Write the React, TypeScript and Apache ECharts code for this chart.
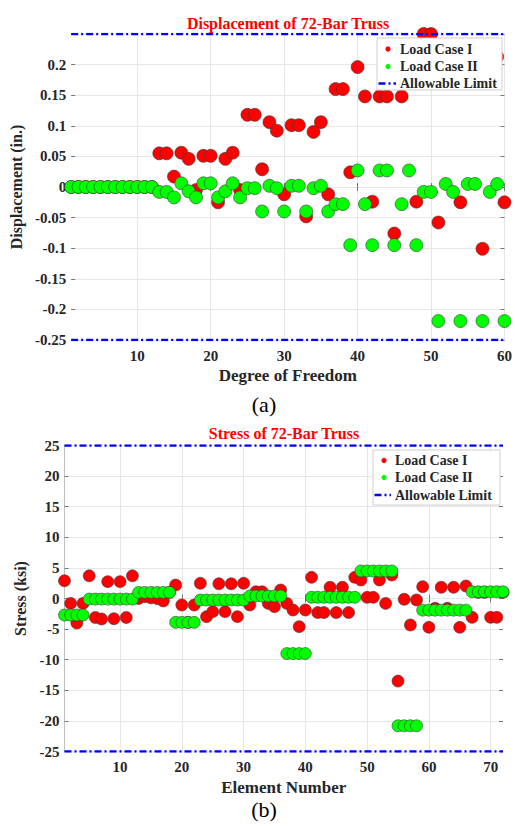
import React, { useEffect, useRef } from "react";
import * as echarts from "echarts";

// ---------- data ----------
const dispTitle = "Displacement of 72-Bar Truss";
const stressTitle = "Stress of 72-Bar Truss";
const seriesNames = ["Load Case I", "Load Case II", "Allowable Limit"];

// Displacement (in.) per degree of freedom 1..60
const dispCase1 = [
  0, 0, 0, 0, 0, 0, 0, 0, 0, 0, 0, 0,
  0.055, 0.055, 0.017, 0.056, 0.046, -0.005, 0.051, 0.051, -0.025, 0.046, 0.056, -0.005,
  0.118, 0.118, 0.029, 0.106, 0.092, -0.012, 0.101, 0.101, -0.048, 0.09, 0.106, -0.012,
  0.16, 0.16, 0.024, 0.196, 0.148, -0.024, 0.148, 0.148, -0.076, 0.148, 0.196, -0.024,
  0.25, 0.25, -0.058, 0.213, 0.19, -0.025, 0.19, 0.19, -0.101, 0.19, 0.213, -0.025,
];
const dispCase2 = [
  0, 0, 0, 0, 0, 0, 0, 0, 0, 0, 0, 0,
  -0.008, -0.008, -0.017, 0.006, -0.007, -0.017, 0.006, 0.006, -0.017, -0.007, 0.006, -0.017,
  -0.002, -0.002, -0.04, 0.002, -0.002, -0.04, 0.002, 0.002, -0.04, -0.002, 0.002, -0.04,
  -0.028, -0.028, -0.095, 0.027, -0.028, -0.095, 0.027, 0.027, -0.095, -0.028, 0.027, -0.095,
  -0.008, -0.008, -0.219, 0.005, -0.008, -0.219, 0.005, 0.005, -0.219, -0.008, 0.005, -0.219,
];
const dispLimit = 0.25;
const dispXTicks = [10, 20, 30, 40, 50, 60];

// Stress (ksi) per element 1..72
const stressCase1 = [
  2.9, -0.8, -4.0, -0.8, 3.7, -3.1, -3.35, 2.75, -3.3, 2.75, -3.1, 3.7,
  0.0, 0.3, 0.1, 0.0, -0.4, 1.0,
  2.2, -1.06, -3.9, -1.06, 2.48, -2.97, -2.15, 2.4, -2.15, 2.4, -2.97, 2.48,
  -1.06, 1.1, 1.1, -0.8, -1.33, 1.39,
  -0.8, -1.88, -4.6, -1.88, 3.46, -2.3, -2.3, 1.83, -2.3, 1.83, -2.3, 3.46,
  3.02, 0.19, 0.19, 3.02, -0.8, 3.84,
  -13.5, -0.13, -4.33, -0.24, 1.93, -4.71, -1.6, 1.83, -1.6, 1.83, -4.71, 2.04,
  -3.08, 1.0, 1.0, -3.08, -3.08, 1.0,
];
const stressCase2 = [
  -2.7, -2.7, -2.7, -2.7, -0.1, -0.1, -0.1, -0.1, -0.1, -0.1, -0.1, -0.1,
  1.0, 1.0, 1.0, 1.0, 1.0, 1.0,
  -3.9, -3.9, -3.9, -3.9, -0.25, -0.25, -0.25, -0.25, -0.25, -0.25, -0.25, -0.25,
  0.4, 0.4, 0.4, 0.4, 0.4, 0.4,
  -9.0, -9.0, -9.0, -9.0, 0.2, 0.2, 0.2, 0.2, 0.2, 0.2, 0.2, 0.2,
  4.5, 4.5, 4.5, 4.5, 4.5, 4.5,
  -20.8, -20.8, -20.8, -20.8, -1.9, -1.9, -1.9, -1.9, -1.9, -1.9, -1.9, -1.9,
  1.1, 1.1, 1.1, 1.1, 1.1, 1.1,
];
const stressLimit = 25;
const stressXTicks = [10, 20, 30, 40, 50, 60, 70];

// ---------- styles ----------
const serif = "'Liberation Serif', 'Times New Roman', serif";
const ink = "#262626";
const gridGrey = "#e6e6e6";
const red = "#ff0000";
const green = "#00ff00";
const blue = "#0000ff";
const limitDash = [7, 3, 2, 3];

const pts = (vals: number[]) => vals.map((v, i) => [i + 1, v]);

function legendBox(x: number, y: number, w: number, h: number, rowYs: number[], markX: number, textX: number) {
  const colors = [red, green];
  const els: any[] = [
    {
      type: "rect", z: 50, silent: true,
      shape: { x, y, width: w, height: h },
      style: { fill: "#ffffff", stroke: "#cfcfcf", lineWidth: 1 },
    },
  ];
  seriesNames.forEach((name, i) => {
    if (i < 2) {
      els.push({
        type: "circle", z: 51, silent: true,
        shape: { cx: markX, cy: rowYs[i], r: 2.6 },
        style: { fill: colors[i] },
      });
    } else {
      els.push({
        type: "line", z: 51, silent: true,
        shape: { x1: x + 1.5, y1: rowYs[i], x2: textX - 4, y2: rowYs[i] },
        style: { stroke: blue, lineWidth: 2.5, lineDash: limitDash },
      });
    }
    els.push({
      type: "text", z: 52, silent: true, x: textX, y: rowYs[i],
      style: {
        text: name, fontFamily: serif, fontWeight: "bold", fontSize: 14, fill: ink,
        align: "left", verticalAlign: "middle",
      },
    });
  });
  return els;
}

function buildOption() {
  const n1 = dispCase1.length;
  const n2 = stressCase1.length;
  const tickLbl = { fontFamily: serif, fontWeight: "bold", fontSize: 15, color: ink };
  const nameStyle = { fontFamily: serif, fontWeight: "bold", fontSize: 17, color: ink };
  const inTick = { show: true, inside: true, length: 4, lineStyle: { color: "#777", width: 1 } };

  const mkX = (gridIndex: number, max: number, ticks: number[], name: string) => [
    {
      type: "value", gridIndex, min: 1, max, position: "bottom",
      name, nameLocation: "middle", nameGap: 27, nameTextStyle: nameStyle,
      axisLine: { show: false },
      axisTick: { ...inTick, customValues: ticks },
      axisLabel: { ...tickLbl, margin: 8, customValues: ticks },
      splitLine: { show: true, lineStyle: { color: gridGrey, width: 1 } },
    },
    {
      type: "value", gridIndex, min: 1, max, position: "top",
      axisLine: { show: false },
      axisTick: { ...inTick, customValues: ticks },
      axisLabel: { show: false, customValues: ticks },
      splitLine: { show: false },
    },
  ];

  const mkY = (gridIndex: number, lim: number, interval: number, name: string, gap: number, fmt: any, showLine: boolean) => [
    {
      type: "value", gridIndex, min: -lim, max: lim, interval, position: "left",
      name, nameLocation: "middle", nameGap: gap, nameTextStyle: { ...nameStyle, fontSize: 16 },
      axisLine: { show: showLine, lineStyle: { color: "#c0c0c0", width: 1 } },
      axisTick: inTick,
      axisLabel: { ...tickLbl, margin: 5, formatter: fmt },
      splitLine: { show: true, lineStyle: { color: gridGrey, width: 1 } },
    },
    {
      type: "value", gridIndex, min: -lim, max: lim, interval, position: "right",
      axisLine: { show: false },
      axisTick: inTick,
      axisLabel: { show: false },
      splitLine: { show: false },
    },
  ];

  const limitSeries = (xi: number, yi: number, xmax: number, lim: number) =>
    [lim, -lim].map((v) => ({
      name: seriesNames[2], type: "line", xAxisIndex: xi, yAxisIndex: yi,
      data: [[1, v], [xmax, v]], symbol: "none", silent: true,
      lineStyle: { color: blue, width: 2.5, type: limitDash },
    }));

  const scatter = (name: string, vals: number[], color: string, xi: number, yi: number, size: number) => ({
    name, type: "scatter", xAxisIndex: xi, yAxisIndex: yi, data: pts(vals),
    symbol: "circle", symbolSize: size,
    itemStyle: { color, borderColor: "#3a3a3a", borderWidth: 0.6, opacity: 1 },
  });

  return {
    animation: false,
    textStyle: { fontFamily: serif },
    grid: [
      { left: 68, right: 7, top: 34, height: 306 },
      { left: 64.5, right: 12, top: 445.5, height: 306 },
    ],
    xAxis: [
      ...mkX(0, n1, dispXTicks, "Degree of Freedom"),
      ...mkX(1, n2, stressXTicks, "Element Number"),
    ],
    yAxis: [
      ...mkY(0, dispLimit, 0.05, "Displacement (in.)", 40,
        (v: number) => (Math.abs(v - dispLimit) < 1e-9 ? "" : String(+v.toFixed(2))), false),
      ...mkY(1, stressLimit, 5, "Stress (ksi)", 31, (v: number) => String(v), true),
    ],
    series: [
      ...limitSeries(0, 0, n1, dispLimit),
      scatter(seriesNames[0], dispCase1, red, 0, 0, 13),
      scatter(seriesNames[1], dispCase2, green, 0, 0, 13),
      ...limitSeries(2, 2, n2, stressLimit),
      scatter(seriesNames[0], stressCase1, red, 2, 2, 12),
      scatter(seriesNames[1], stressCase2, green, 2, 2, 12),
    ],
    graphic: [
      ...legendBox(377, 38, 125, 52, [49, 66.5, 83.5], 388, 400),
      ...legendBox(373, 450, 127, 55, [460.5, 477.5, 495], 384, 395),
      {
        type: "text", x: 288, y: 23, silent: true, z: 60,
        style: { text: dispTitle, fontFamily: serif, fontWeight: "bold", fontSize: 16, fill: red, align: "center", verticalAlign: "middle" },
      },
      {
        type: "text", x: 284, y: 433, silent: true, z: 60,
        style: { text: stressTitle, fontFamily: serif, fontWeight: "bold", fontSize: 16, fill: red, align: "center", verticalAlign: "middle" },
      },
      {
        type: "text", x: 264, y: 404, silent: true,
        style: { text: "(a)", fontFamily: serif, fontSize: 22, fill: "#000", align: "center", verticalAlign: "middle" },
      },
      {
        type: "text", x: 264, y: 809, silent: true,
        style: { text: "(b)", fontFamily: serif, fontSize: 22, fill: "#000", align: "center", verticalAlign: "middle" },
      },
    ],
  };
}

export default function App() {
  const ref = useRef<HTMLDivElement>(null);
  useEffect(() => {
    if (!ref.current) return;
    const chart = echarts.init(ref.current, undefined, { renderer: "svg" });
    chart.setOption(buildOption() as any);
    return () => chart.dispose();
  }, []);
  return (
    <div
      ref={ref}
      style={{ position: "fixed", left: 0, top: 0, width: 515, height: 826, background: "#ffffff" }}
    />
  );
}
